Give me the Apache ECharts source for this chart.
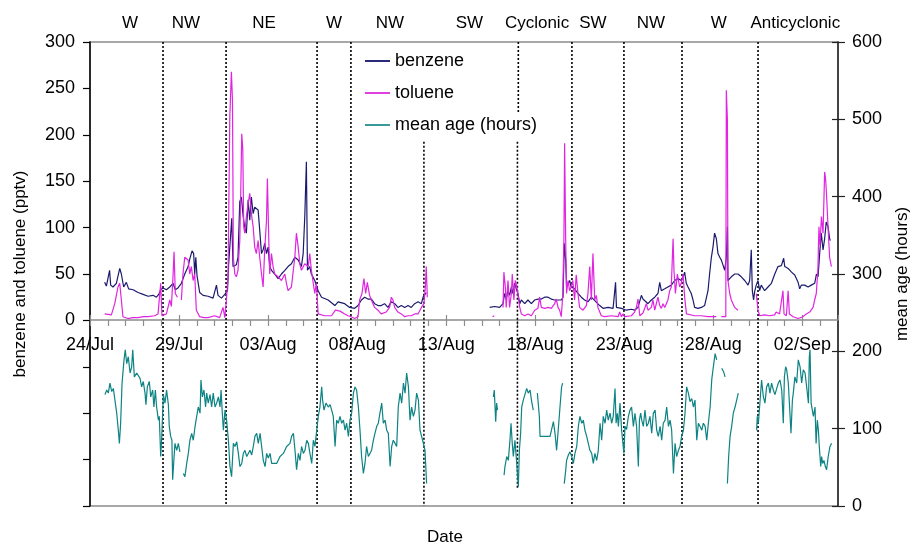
<!DOCTYPE html>
<html>
<head>
<meta charset="utf-8">
<title>benzene, toluene and mean age</title>
<script src="https://cdn.jsdelivr.net/npm/echarts@6/dist/echarts.min.js"></script>
<style>
  html, body { margin: 0; padding: 0; background: #fff; }
  #chart { width: 912px; height: 545px; }
</style>
</head>
<body>
<div id="chart"></div>
<script>
// x values are days since 24 Jul 00:00; null breaks the line
const dateLabels = ['24/Jul', '29/Jul', '03/Aug', '08/Aug', '13/Aug', '18/Aug', '23/Aug', '28/Aug', '02/Sep'];

// wind sector names on top, and where they sit (days)
const sectorNames = ['W', 'NW', 'NE', 'W', 'NW', 'SW', 'Cyclonic', 'SW', 'NW', 'W', 'Anticyclonic'];
const sectorCenters = [2.25, 5.39, 9.77, 13.7, 16.84, 21.3, 25.1, 28.24, 31.5, 35.3, 39.6];

// sector boundaries: [day, from, to] in mean-age axis units
const sectorBounds = [
  [4.10, 600, 0], [7.64, 600, 0], [12.75, 600, 0], [14.65, 600, 0],
  [18.75, 471, 0], [24.05, 600, 508], [24.00, 471, 23], [27.06, 600, 0],
  [29.98, 600, 0], [33.24, 600, 0], [37.51, 600, 0]
];

const benzene = [
  [0.82,41],[0.92,37],[1.01,35],[1.10,54],[1.16,38],[1.29,36],[1.48,40],[1.67,56],[1.76,50],[1.89,36],
  [2.04,41],[2.17,34],[2.42,33],[2.70,30],[2.98,28],[3.26,26],[3.54,27],[3.73,25],[3.86,28],[3.97,33],
  [4.10,35],[4.29,33],[4.48,36],[4.66,40],[4.79,33],[4.94,35],[5.13,40],[5.32,50],[5.51,58],[5.60,66],
  [5.73,75],[5.82,72],[5.88,50],[5.94,68],[6.01,48],[6.16,30],[6.35,27],[6.63,26],[6.91,24],[7.10,38],
  [7.19,27],[7.38,24],[7.57,28],[7.72,32],[7.79,62],[7.90,60],[7.96,110],[8.03,58],[8.22,60],[8.31,68],
  [8.41,128],[8.50,133],[8.60,112],[8.69,100],[8.78,94],[8.88,130],[8.97,108],[9.06,133],[9.16,115],[9.25,122],
  [9.34,124],[9.44,119],[9.53,97],[9.63,72],[9.72,76],[9.81,83],[9.91,72],[10.00,79],[10.09,58],[10.19,54],
  [10.37,50],[10.56,45],[10.75,50],[10.94,54],[11.12,58],[11.31,61],[11.50,68],[11.69,65],[11.87,58],[11.97,72],
  [12.06,112],[12.15,171],[12.21,54],[12.34,58],[12.43,50],[12.62,43],[12.81,32],[13.00,25],[13.37,22],[13.75,16],
  [13.93,20],[14.30,18],[14.58,14],[14.86,13],[15.05,16],[15.24,22],[15.42,25],[15.61,23],[15.80,23],[15.98,18],
  [16.17,16],[16.35,16],[16.54,18],[16.73,14],[16.92,20],[17.11,18],[17.29,14],[17.48,16],[17.67,14],[17.86,16],
  [18.04,14],[18.23,18],[18.42,20],[18.61,18],[18.70,25],[18.79,25],[18.88,30],
  [20,null],
  [22.44,14],[22.72,15],[23.00,14],[23.09,13],[23.19,18],[23.28,29],[23.37,23],[23.47,32],[23.56,27],[23.66,36],
  [23.75,29],[23.84,40],[23.94,34],[24.03,29],[24.13,18],[24.22,22],[24.41,18],[24.59,22],[24.78,18],[24.97,22],
  [25.15,23],[25.34,23],[25.53,25],[25.72,25],[25.90,23],[26.09,22],[26.28,22],[26.46,22],[26.56,25],[26.63,83],
  [26.71,65],[26.76,36],[26.84,36],[26.93,43],[27.02,36],[27.21,34],[27.40,29],[27.59,25],[27.77,22],[27.96,20],
  [28.15,25],[28.62,16],[28.81,13],[29.09,14],[29.37,13],[29.51,41],[29.56,14],[29.84,13],[30.11,11],[30.40,12],
  [30.58,11],[30.77,14],[30.96,27],[31.05,23],[31.14,25],[31.33,18],[31.52,22],[31.71,25],[31.89,29],[31.99,41],
  [32.08,32],[32.27,34],[32.45,36],[32.64,38],[32.83,43],[33.02,45],[33.20,43],[33.30,47],[33.39,52],[33.48,40],
  [33.58,36],[33.76,29],[33.86,22],[33.95,14],[34.14,13],[34.33,14],[34.51,16],[34.61,18],[34.70,32],[34.79,50],
  [34.89,68],[34.98,79],[35.07,94],[35.17,88],[35.26,72],[35.36,68],[35.45,65],[35.54,63],[35.64,54],[35.73,68],
  [35.79,101],[35.82,43],[35.92,45],[36.01,47],[36.20,50],[36.29,52],[36.38,50],[36.57,47],[36.76,43],[36.95,38],
  [37.04,43],[37.13,76],[37.19,32],[37.26,22],[37.32,31],[37.41,38],[37.51,43],[37.60,32],[37.69,38],[37.79,36],
  [37.88,32],[38.07,36],[38.26,40],[38.45,50],[38.63,58],[38.82,59],[38.95,67],[39.01,58],[39.20,56],[39.39,52],
  [39.57,49],[39.76,41],[39.85,34],[39.94,38],[40.13,38],[40.32,36],[40.50,38],[40.69,40],[40.79,50],[40.88,47],
  [40.97,72],[41.06,94],[41.16,76],[41.25,88],[41.34,106],[41.44,101],[41.53,88],[41.57,86]
];

const toluene = [
  [0.82,7],[1.20,6],[1.39,18],[1.57,36],[1.67,40],[1.76,22],[1.85,4],[2.13,2],[2.40,3],[2.70,3],
  [3.00,4],[3.26,4],[3.63,5],[3.82,7],[3.91,7],[3.97,40],[4.04,5],[4.29,7],[4.48,22],[4.57,15],
  [4.66,47],[4.72,74],[4.79,29],[4.91,25],[5.00,null],[5.13,22],[5.22,50],[5.32,68],[5.51,65],[5.60,50],
  [5.69,58],[5.79,43],[5.88,50],[5.97,11],[6.16,4],[6.40,3],[6.63,3],[7.00,5],[7.28,3],[7.47,14],
  [7.57,3],[7.66,22],[7.75,47],[7.85,219],[7.94,268],[8.00,237],[8.05,68],[8.13,50],[8.22,47],[8.31,54],
  [8.41,86],[8.46,133],[8.52,201],[8.58,184],[8.63,101],[8.69,94],[8.78,112],[8.88,126],[8.97,137],[9.06,115],
  [9.16,101],[9.25,79],[9.34,72],[9.44,86],[9.53,68],[9.63,50],[9.72,36],[9.81,76],[9.91,108],[9.96,153],
  [10.04,86],[10.09,50],[10.19,72],[10.28,58],[10.37,50],[10.56,47],[10.75,43],[10.94,50],[11.03,40],[11.12,32],
  [11.31,36],[11.50,68],[11.59,94],[11.69,79],[11.78,61],[11.87,54],[12.06,61],[12.25,58],[12.34,72],[12.43,54],
  [12.62,29],[12.71,40],[12.81,7],[13.18,5],[13.56,5],[13.78,11],[14.04,10],[14.30,7],[14.48,5],[14.67,4],
  [14.86,2],[15.05,4],[15.14,22],[15.27,29],[15.38,45],[15.48,29],[15.57,41],[15.70,27],[15.80,22],[15.98,14],
  [16.17,11],[16.35,7],[16.63,9],[16.82,14],[16.92,25],[17.01,22],[17.11,14],[17.29,9],[17.48,7],[17.67,4],
  [17.86,5],[18.04,5],[18.23,7],[18.42,7],[18.61,14],[18.75,18],[18.83,36],[18.88,58],[18.94,25],
  [20,null],
  [22.60,4],[22.70,5],[22.90,null],
  [23.19,14],[23.24,52],[23.32,36],[23.37,14],[23.47,43],[23.56,14],[23.66,29],[23.71,50],[23.80,22],[23.88,43],
  [23.97,36],[24.03,36],[24.13,14],[24.22,7],[24.41,5],[24.59,7],[24.78,5],[24.97,11],[25.15,13],[25.25,25],
  [25.34,14],[25.53,13],[25.72,14],[25.90,13],[26.09,18],[26.18,23],[26.28,14],[26.37,11],[26.46,4],[26.54,25],
  [26.61,86],[26.65,191],[26.71,86],[26.76,29],[26.84,43],[26.93,32],[27.02,36],[27.11,43],[27.21,22],[27.30,49],
  [27.40,29],[27.49,14],[27.68,11],[27.87,16],[27.96,29],[28.06,58],[28.15,22],[28.24,72],[28.34,22],[28.43,27],
  [28.52,14],[28.71,5],[28.90,4],[29.28,5],[29.65,4],[29.74,9],[29.84,4],[29.93,7],[30.02,4],[30.40,5],
  [30.58,9],[30.68,14],[30.77,23],[30.87,5],[31.05,8],[31.24,18],[31.33,11],[31.52,14],[31.61,22],[31.71,11],
  [31.80,18],[31.89,25],[31.99,16],[32.08,13],[32.17,18],[32.27,14],[32.45,22],[32.55,32],[32.64,36],[32.70,68],
  [32.74,88],[32.79,54],[32.87,29],[32.98,50],[33.11,36],[33.20,40],[33.30,50],[33.39,25],[33.49,7],[33.58,5],
  [33.95,5],[34.33,5],[34.70,4],[35.17,4],[35.30,null],[35.45,4],[35.70,4],[35.73,248],[35.79,216],[35.82,43],
  [35.92,29],[36.01,22],[36.20,14],[36.38,11],[37.00,null],[37.41,29],[37.51,11],[37.60,5],[37.88,6],[38.16,5],
  [38.44,6],[38.53,9],[38.72,7],[38.91,32],[38.97,7],[39.10,5],[39.20,32],[39.27,7],[39.48,4],[39.76,2],
  [40.03,4],[40.22,7],[40.41,9],[40.60,14],[40.69,22],[40.78,29],[40.87,54],[40.93,101],[40.99,81],[41.07,112],
  [41.16,94],[41.25,160],[41.31,151],[41.37,130],[41.44,101],[41.53,68],[41.63,58]
];

const meanAge = [
  [0.84,144],[0.94,150],[1.03,146],[1.12,159],[1.22,148],[1.31,152],[1.40,137],[1.50,120],[1.59,98],[1.65,81],
  [1.72,107],[1.80,159],[1.91,189],[1.98,202],[2.06,184],[2.15,193],[2.25,172],[2.34,180],[2.40,202],[2.49,167],
  [2.62,172],[2.71,172],[2.81,165],[2.90,154],[2.99,161],[3.09,146],[3.14,131],[3.22,154],[3.33,161],[3.41,141],
  [3.52,150],[3.59,128],[3.67,150],[3.74,128],[3.84,111],[3.89,116],[3.97,64],[4.02,85],[4.12,144],[4.21,133],
  [4.30,150],[4.40,131],[4.45,103],[4.53,90],[4.60,85],[4.64,34],[4.77,81],[4.87,72],[4.96,81],[5.05,70],
  [5.15,null],[5.24,42],[5.33,38],[5.43,55],[5.52,68],[5.61,85],[5.71,94],[5.80,85],[5.90,103],[5.99,116],
  [6.08,128],[6.18,120],[6.23,163],[6.31,141],[6.40,150],[6.49,128],[6.55,146],[6.64,133],[6.74,144],[6.83,128],
  [6.92,146],[7.02,128],[7.11,133],[7.21,141],[7.30,128],[7.36,150],[7.43,120],[7.49,98],[7.58,124],[7.67,111],
  [7.77,85],[7.86,51],[7.95,38],[8.05,81],[8.14,77],[8.24,83],[8.33,68],[8.42,51],[8.52,55],[8.61,68],
  [8.70,72],[8.80,64],[8.89,68],[8.98,72],[9.08,66],[9.17,77],[9.26,90],[9.36,94],[9.45,81],[9.55,94],
  [9.64,96],[9.73,59],[9.83,51],[9.92,68],[10.01,62],[10.11,68],[10.20,55],[10.29,57],[10.48,55],[10.67,64],
  [10.86,68],[11.04,77],[11.23,81],[11.32,90],[11.42,94],[11.51,72],[11.60,47],[11.70,68],[11.79,59],[11.88,77],
  [11.98,68],[12.07,72],[12.17,85],[12.26,81],[12.35,68],[12.45,55],[12.54,85],[12.63,77],[12.73,98],[12.82,116],
  [12.91,128],[13.01,154],[13.06,137],[13.14,124],[13.25,133],[13.38,128],[13.48,131],[13.57,124],[13.66,116],[13.76,77],
  [13.85,111],[13.94,107],[14.04,116],[14.13,107],[14.23,111],[14.32,98],[14.41,107],[14.51,90],[14.60,111],[14.69,120],
  [14.79,146],[14.88,154],[14.97,150],[15.07,128],[15.16,98],[15.25,64],[15.35,42],[15.44,55],[15.53,77],[15.63,64],
  [15.72,68],[15.81,72],[15.91,85],[16.00,94],[16.10,103],[16.19,107],[16.28,120],[16.38,133],[16.47,107],[16.57,111],
  [16.66,98],[16.75,94],[16.85,51],[16.94,77],[17.03,85],[17.13,81],[17.22,77],[17.31,128],[17.41,146],[17.50,133],
  [17.60,159],[17.69,146],[17.78,172],[17.88,154],[17.97,111],[18.06,128],[18.16,116],[18.25,124],[18.34,146],[18.44,137],
  [18.53,98],[18.62,90],[18.72,81],[18.81,72],[18.90,29],
  [20,null],
  [22.65,141],[22.70,150],[22.78,109],[22.83,133],[22.88,124],[23.00,null],
  [23.25,40],[23.30,51],[23.40,64],[23.49,59],[23.58,85],[23.64,107],[23.71,81],[23.77,64],[23.86,85],[23.96,55],
  [24.05,25],[24.11,72],[24.18,94],[24.24,128],[24.33,137],[24.43,137],[24.52,152],[24.61,146],[24.71,150],[24.80,135],
  [24.89,124],[25.00,null],[25.12,146],[25.18,146],[25.23,116],[25.27,90],[25.36,92],[25.83,90],[26.02,109],[26.11,94],
  [26.20,72],[26.29,98],[26.39,128],[26.48,154],[26.54,159],[26.58,null],
  [26.63,29],[26.71,46],[26.76,59],[26.86,66],[26.95,70],[27.05,64],[27.14,55],[27.23,68],[27.33,77],[27.42,103],
  [27.51,116],[27.61,107],[27.70,111],[27.79,98],[27.89,90],[27.98,81],[28.07,72],[28.17,68],[28.26,55],[28.35,68],
  [28.45,59],[28.54,72],[28.64,107],[28.73,85],[28.82,116],[28.92,107],[29.01,124],[29.10,111],[29.20,120],[29.29,107],
  [29.38,116],[29.48,152],[29.54,107],[29.61,120],[29.67,103],[29.76,133],[29.85,98],[29.98,68],[30.04,103],[30.13,99],
  [30.23,116],[30.32,124],[30.41,128],[30.51,103],[30.60,120],[30.69,103],[30.79,51],[30.85,111],[30.92,120],[30.98,111],
  [31.07,103],[31.16,124],[31.26,103],[31.35,107],[31.44,116],[31.54,94],[31.63,120],[31.73,124],[31.82,98],[31.91,90],
  [32.01,103],[32.10,85],[32.19,107],[32.29,111],[32.38,128],[32.48,103],[32.57,111],[32.66,98],[32.76,42],[32.85,81],
  [32.94,64],[33.04,72],[33.13,77],[33.22,90],[33.32,98],[33.41,120],[33.50,154],[33.60,146],[33.69,135],[33.79,139],
  [33.88,128],[33.97,137],[34.07,85],[34.16,107],[34.25,103],[34.35,98],[34.44,107],[34.54,103],[34.63,85],[34.72,107],
  [34.82,128],[34.91,163],[35.00,180],[35.10,197],[35.19,189],[35.30,null],[35.47,178],[35.57,174],[35.66,167],[35.72,null],
  [35.79,29],[35.86,64],[35.94,90],[36.03,103],[36.12,120],[36.22,128],[36.31,137],[36.40,146],[36.50,null],
  [37.43,98],[37.47,116],[37.53,107],[37.71,163],[37.81,141],[37.90,133],[37.99,154],[38.09,159],[38.18,146],[38.27,159],
  [38.37,150],[38.46,144],[38.56,152],[38.65,159],[38.74,163],[38.84,150],[38.93,107],[38.99,167],[39.06,180],[39.12,176],
  [39.21,159],[39.31,159],[39.36,94],[39.44,137],[39.49,146],[39.58,167],[39.68,159],[39.77,189],[39.87,180],[39.96,159],
  [40.05,176],[40.15,172],[40.24,154],[40.34,133],[40.39,193],[40.43,202],[40.49,133],[40.56,133],[40.62,116],[40.71,128],
  [40.77,81],[40.84,111],[40.90,98],[40.95,77],[41.03,51],[41.08,64],[41.14,55],[41.21,59],[41.29,51],[41.36,47],
  [41.45,64],[41.55,77],[41.64,81]
];

const FONT = '"Liberation Sans", Arial, sans-serif';

// each boundary becomes a vertical segment, separated by a gap
const dividerData = [];
sectorBounds.forEach(b => {
  dividerData.push([b[0], b[1]], [b[0], b[2]], [b[0], null]);
});

const chart = echarts.init(document.getElementById('chart'), null, { renderer: 'canvas' });

const option = {
  animation: false,
  backgroundColor: '#fff',
  textStyle: { fontFamily: FONT, color: '#000' },
  grid: [
    // whole plot (both panels)
    {
      left: 90, right: 74, top: 42, bottom: 39, outerBoundsMode: 'none',
      show: true, borderColor: '#8c8c8c', borderWidth: 1.5, backgroundColor: 'transparent'
    },
    // upper panel only: carries the date axis
    { left: 90, right: 74, top: 42, bottom: 225, outerBoundsMode: 'none', show: false }
  ],
  legend: {
    orient: 'vertical',
    left: 365,
    top: 52,
    padding: 0,
    icon: 'rect',
    itemWidth: 25,
    itemHeight: 2,
    itemGap: 14,
    textStyle: { fontSize: 18, color: '#000', fontFamily: FONT },
    data: ['benzene', 'toluene', 'mean age (hours)']
  },
  xAxis: [
    {
      gridIndex: 0, type: 'value', min: 0, max: 42, position: 'bottom',
      axisLine: { show: false, onZero: false }, axisTick: { show: false },
      axisLabel: { show: false }, splitLine: { show: false }
    },
    {
      gridIndex: 1, type: 'value', min: 0, max: 42, interval: 1, position: 'bottom',
      axisLine: { show: true, onZero: false, lineStyle: { color: '#8c8c8c', width: 1.5 } },
      axisTick: { length: 6, lineStyle: { color: '#8c8c8c', width: 1.2 } },
      axisLabel: {
        margin: 16, fontSize: 18, color: '#000', fontFamily: FONT,
        showMaxLabel: false,
        formatter: v => (v % 5 === 0 ? dateLabels[v / 5] || '' : '')
      },
      splitLine: { show: false }
    },
    {
      // major ticks poking up through the date axis
      gridIndex: 1, type: 'value', min: 0, max: 42, interval: 5, position: 'bottom',
      axisLine: { show: false, onZero: false },
      axisTick: { inside: true, length: 5, lineStyle: { color: '#8c8c8c', width: 1.2 } },
      axisLabel: { show: false },
      splitLine: { show: false }
    }
  ],
  yAxis: [
    {
      gridIndex: 0, type: 'value', min: -200, max: 300, interval: 50, position: 'left',
      axisLine: { show: true, onZero: false, lineStyle: { color: '#000', width: 1.5 } },
      axisTick: { show: true, length: 7, lineStyle: { color: '#000', width: 1.2 } },
      axisLabel: { margin: 15, fontSize: 18, color: '#000', fontFamily: FONT, formatter: v => (v < 0 ? '' : String(v)) },
      splitLine: { show: false },
      name: 'benzene and toluene (pptv)',
      nameLocation: 'middle', nameRotate: 90, nameGap: 61,
      nameTextStyle: { fontSize: 17, color: '#000', fontFamily: FONT }
    },
    {
      gridIndex: 0, type: 'value', min: 0, max: 600, interval: 100, position: 'right',
      axisLine: { show: true, onZero: false, lineStyle: { color: '#222', width: 1.5 } },
      axisTick: { show: true, length: 7, lineStyle: { color: '#222', width: 1.2 } },
      axisLabel: { margin: 14, fontSize: 18, color: '#000', fontFamily: FONT },
      splitLine: { show: false },
      name: 'mean age (hours)',
      nameLocation: 'middle', nameRotate: 90, nameGap: 56,
      nameTextStyle: { fontSize: 17, color: '#000', fontFamily: FONT }
    },
    {
      // inner half of the right-hand ticks
      gridIndex: 0, type: 'value', min: 0, max: 600, interval: 100, position: 'right',
      axisLine: { show: false, onZero: false },
      axisTick: { show: true, inside: true, length: 6, lineStyle: { color: '#222', width: 1.2 } },
      axisLabel: { show: false },
      splitLine: { show: false }
    },
    {
      gridIndex: 1, type: 'value', min: 0, max: 300, show: false
    }
  ],
  series: [
    {
      name: 'sectors', type: 'line', xAxisIndex: 0, yAxisIndex: 1,
      data: dividerData, showSymbol: false, symbol: 'none', connectNulls: false, silent: true,
      lineStyle: { color: '#000', type: [2, 2], width: 1.6 }, z: 2
    },
    {
      name: 'benzene', type: 'line', xAxisIndex: 0, yAxisIndex: 0,
      data: benzene, showSymbol: false, symbol: 'none', connectNulls: false,
      lineStyle: { color: '#1b1b6e', width: 1.2 }, itemStyle: { color: '#2a2a7a' }, z: 3
    },
    {
      name: 'toluene', type: 'line', xAxisIndex: 0, yAxisIndex: 0,
      data: toluene, showSymbol: false, symbol: 'none', connectNulls: false,
      lineStyle: { color: '#e024e0', width: 1.2 }, itemStyle: { color: '#e040e0' }, z: 4
    },
    {
      name: 'mean age (hours)', type: 'line', xAxisIndex: 0, yAxisIndex: 1,
      data: meanAge, showSymbol: false, symbol: 'none', connectNulls: false,
      lineStyle: { color: '#0d8383', width: 1.2 }, itemStyle: { color: '#3a9a9a' }, z: 3
    }
  ]
};

chart.setOption(option);

// sector names along the top, placed through the date axis
const sectorTexts = sectorNames.map((name, i) => ({
  type: 'text',
  x: chart.convertToPixel({ xAxisIndex: 0 }, sectorCenters[i]),
  y: 23,
  style: { text: name, fontSize: 17, fontFamily: FONT, fill: '#000', align: 'center', verticalAlign: 'middle' }
}));

chart.setOption({
  graphic: sectorTexts.concat([{
    type: 'text', x: 445, y: 537,
    style: { text: 'Date', fontSize: 17, fontFamily: FONT, fill: '#000', align: 'center', verticalAlign: 'middle' }
  }])
});
</script>
</body>
</html>
